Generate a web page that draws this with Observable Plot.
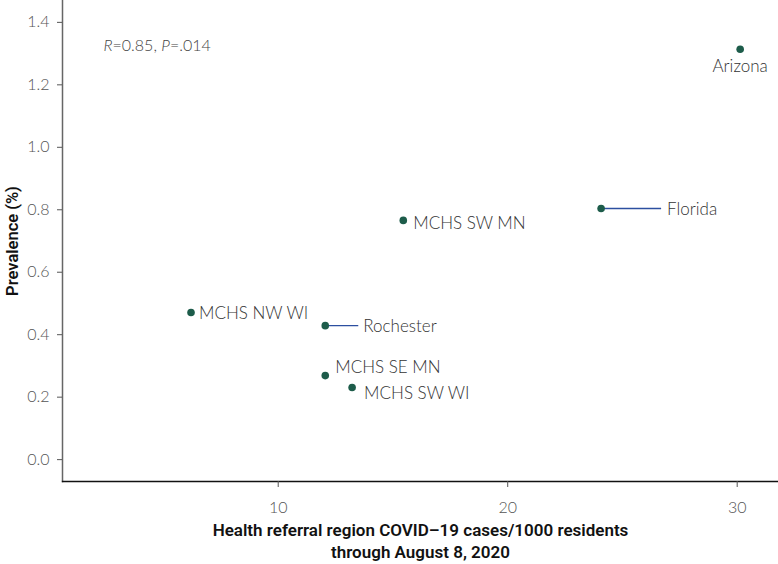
<!DOCTYPE html>
<html><head><meta charset="utf-8">
<script src="https://cdn.jsdelivr.net/npm/d3@7"></script>
<script src="https://cdn.jsdelivr.net/npm/@observablehq/plot@0.6"></script>
<style>
body{margin:0;background:#fff;}
svg{font-family:Lato, "Open Sans", sans-serif;}
</style></head>
<body><div id="chart"></div>
<script>
const regions = ["Arizona","Florida","MCHS SW MN","MCHS NW WI","Rochester","MCHS SE MN","MCHS SW WI"];
const cases = [30.13, 24.07, 15.45, 6.2, 12.05, 12.05, 13.22];
const prevalence = [1.314, 0.804, 0.766, 0.471, 0.429, 0.269, 0.231];
const xTicks = [10, 20, 30];
const yTicks = [0, 0.2, 0.4, 0.6, 0.8, 1.0, 1.2, 1.4];
const xLabel1 = "Health referral region COVID–19 cases/1000 residents";
const xLabel2 = "through August 8, 2020";
const yLabel = "Prevalence (%)";
const stat = "R=0.85, P=.014";

const data = regions.map((r,i)=>({region:r, x:cases[i], y:prevalence[i]}));
const byName = n => data.filter(d=>d.region===n);
// label placement (offsets in px, not data)
const place = {
  "Arizona":{dx:0, dy:17, anchor:"middle"},
  "Florida":{dx:66, dy:1, anchor:"start"},
  "MCHS SW MN":{dx:10, dy:3, anchor:"start"},
  "MCHS NW WI":{dx:8, dy:1, anchor:"start"},
  "Rochester":{dx:38, dy:1, anchor:"start"},
  "MCHS SE MN":{dx:10, dy:-8, anchor:"start"},
  "MCHS SW WI":{dx:12, dy:6, anchor:"start"}
};
const leaders = {"Florida":60, "Rochester":33};

const marks = [
  Plot.frame({anchor:"left", stroke:"#666", strokeWidth:1.5}),
  Plot.frame({anchor:"bottom", stroke:"#111", strokeWidth:1.3}),
  Plot.axisY(yTicks, {tickFormat:d3.format(".1f"), tickSize:5, tickPadding:8, fontSize:16, fill:"#555", stroke:"#555", fontWeight:300, label:null}),
  Plot.axisX(xTicks, {tickSize:6, tickPadding:14, fontSize:16, fill:"#555", stroke:"#555", fontWeight:300, label:null}),
];
for (const [name, len] of Object.entries(leaders)) {
  marks.push(Plot.link(byName(name), {x1:"x", y1:"y", x2:"x", y2:"y", render(index, scales, values, dims, ctx, next){
    const g = next(index, scales, values, dims, ctx);
    d3.select(g).selectAll("path").each(function(_, j){
      const i = index[j];
      const x = values.x1[i], y = values.y1[i];
      d3.select(this).attr("d", `M${x},${y}H${x+len}`);
    });
    return g;
  }, stroke:"#2c4fa0", strokeWidth:1.3}));
}
for (const d of data) {
  const p = place[d.region];
  marks.push(Plot.text([d], {x:"x", y:"y", text:"region", dx:p.dx, dy:p.dy, textAnchor:p.anchor, fontSize:17, fill:"#333", fontWeight:300}));
}
marks.push(Plot.dot(data, {x:"x", y:"y", r:3.8, fill:"#1d5c4a", stroke:"none"}));
marks.push(Plot.text([stat], {frameAnchor:"top-left", dx:41, dy:45, fontSize:16, fill:"#444", fontWeight:300, textAnchor:"start", lineAnchor:"middle"}));
marks.push(Plot.text([xLabel1], {frameAnchor:"bottom", dy:49, fontSize:17, fontWeight:600, fill:"#111", fontFamily:"Roboto", lineAnchor:"middle"}));
marks.push(Plot.text([xLabel2], {frameAnchor:"bottom", dy:71, fontSize:17, fontWeight:600, fill:"#111", fontFamily:"Roboto", lineAnchor:"middle"}));
marks.push(Plot.text([yLabel], {frameAnchor:"left", dx:-50, rotate:-90, textAnchor:"middle", fontSize:16.5, fontWeight:600, fill:"#111", fontFamily:"Roboto"}));

const chart = Plot.plot({
  width:778, height:564,
  marginLeft:62, marginRight:0, marginTop:0, marginBottom:83,
  x:{domain:[0.6, 31.8]},
  y:{domain:[-0.07, 1.47]},
  style:{fontFamily:"Lato, sans-serif", background:"#fff"},
  marks
});
// italicise R and P
d3.select(chart).selectAll("text").filter(function(){return this.textContent===stat;}).each(function(){
  const t = d3.select(this);
  t.text("");
  t.append("tspan").attr("font-style","italic").text("R");
  t.append("tspan").text("=0.85, ");
  t.append("tspan").attr("font-style","italic").text("P");
  t.append("tspan").text("=.014");
});
document.getElementById("chart").appendChild(chart);
</script></body></html>
